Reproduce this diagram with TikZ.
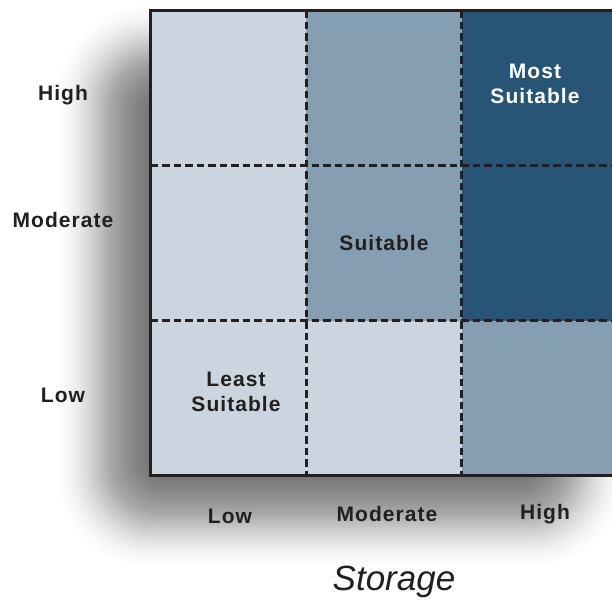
\documentclass[tikz,border=0pt]{standalone}
\usepackage{fontspec}
\setmainfont{Liberation Sans}
\newfontfamily\lblfont[LetterSpace=5]{Liberation Sans}
\definecolor{cellLight}{RGB}{203,213,223}
\definecolor{cellMid}{RGB}{134,158,178}
\definecolor{cellDark}{RGB}{40,84,118}
\definecolor{frameCol}{RGB}{35,31,32}
\tikzset{
  cell/.style={draw=none, minimum width=155.5pt, minimum height=155pt, inner sep=0pt, outer sep=0pt},
  grid line/.style={draw=frameCol, line width=3pt, dash pattern=on 7.5pt off 4pt},
  frame line/.style={draw=frameCol, line width=3pt},
  axislabel/.style={font=\lblfont\fontsize{21}{25}\selectfont\bfseries, text=frameCol},
  celllabel/.style={font=\lblfont\fontsize{21}{25}\selectfont\bfseries, align=center},
}
\begin{document}
\begin{tikzpicture}[x=1pt,y=-1pt]
\useasboundingbox (0,0) rectangle (612,601);
\clip (0,0) rectangle (612,601);
\fill[white] (0,0) rectangle (612,601);
% blurred shadow (smoothstep profile)
\foreach \i in {0,...,59}{
  \pgfmathsetmacro\u{(\i+0.5)/60}
  \pgfmathsetmacro\d{2*60*sin(asin(1-2*\u)/3)}
  \pgfmathsetmacro\r{max(0.5,0.8*(\d+60))}
  \fill[black, opacity=0.011, rounded corners=\r pt] (112-\d,60-\d) rectangle (570+\d,512+\d);
}
% cells (row, column): row 1 = top
\node[cell, fill=cellLight] (c11) at (228.25,88)  {};
\node[cell, fill=cellMid]   (c12) at (383.75,88)  {};
\node[cell, fill=cellDark]  (c13) at (539.25,88)  {};
\node[cell, fill=cellLight] (c21) at (228.25,243) {};
\node[cell, fill=cellMid]   (c22) at (383.75,243) {};
\node[cell, fill=cellDark]  (c23) at (539.25,243) {};
\node[cell, fill=cellLight] (c31) at (228.25,398) {};
\node[cell, fill=cellLight] (c32) at (383.75,398) {};
\node[cell, fill=cellMid]   (c33) at (539.25,398) {};
% dashed grid lines
\draw[grid line] (c11.north east) -- (c31.south east);
\draw[grid line] (c12.north east) -- (c32.south east);
\draw[grid line] (c11.south west) -- (c13.south east);
\draw[grid line] (c21.south west) -- (c23.south east);
% outer frame
\draw[frame line] (c11.north west) rectangle (c33.south east);
% cell labels
\node[celllabel, text=white] (most) at (535,84) {Most\\Suitable};
\node[celllabel, text=frameCol] (suit) at (384,243) {Suitable};
\node[celllabel, text=frameCol] (least) at (236,392) {Least\\Suitable};
% axis labels
\node[axislabel] (yh) at (63,95) {High};
\node[axislabel] (ym) at (63,220) {Moderate};
\node[axislabel] (yl) at (63,395) {Low};
\node[axislabel] (xl) at (230,516) {Low};
\node[axislabel] (xm) at (387,514) {Moderate};
\node[axislabel] (xh) at (545,514) {High};
\node[font=\fontsize{35}{40}\selectfont\itshape, text=frameCol] (storage) at (394,582) {Storage};
\end{tikzpicture}
\end{document}
